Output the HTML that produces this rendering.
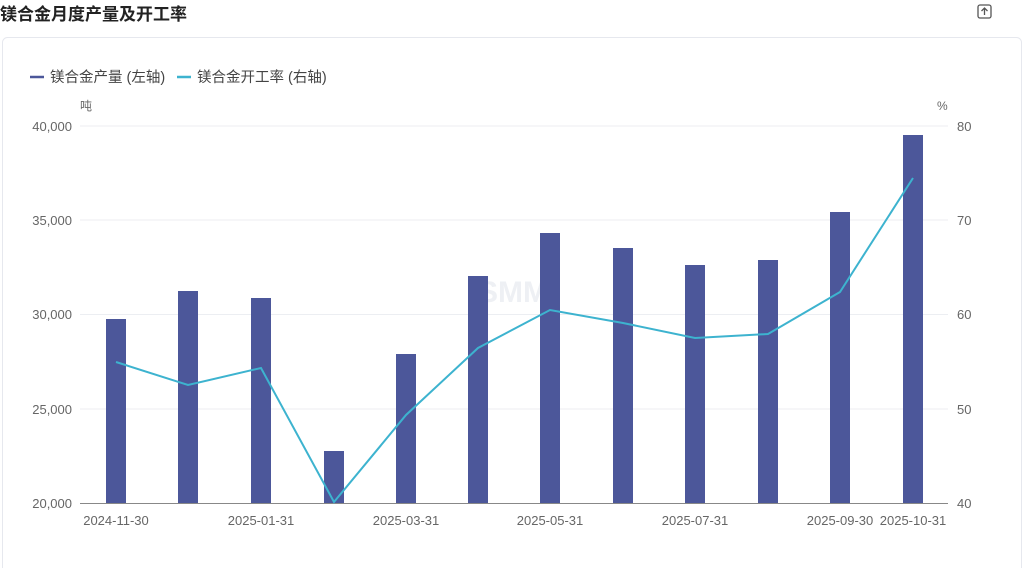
<!DOCTYPE html>
<html><head><meta charset="utf-8"><style>
body{margin:0;width:1024px;height:568px;background:#fff;overflow:hidden;font-family:"Liberation Sans","Noto Sans CJK SC",sans-serif;}
</style></head><body>
<svg width="1024" height="568" xmlns="http://www.w3.org/2000/svg" font-family="Liberation Sans, Noto Sans CJK SC, sans-serif">
<text x="0" y="20" font-size="17" font-weight="bold" fill="#222">镁合金月度产量及开工率</text>
<rect x="978" y="5" width="13" height="13" rx="2" fill="none" stroke="#555" stroke-width="1.3"/>
<path d="M984.5 15V8M981.5 11l3-3 3 3" fill="none" stroke="#555" stroke-width="1.3"/>
<rect x="2.5" y="37.5" width="1019" height="540" rx="5" fill="none" stroke="#e6e8ee"/>
<line x1="30" y1="77" x2="44" y2="77" stroke="#4c579a" stroke-width="2.5"/>
<text x="50" y="82" font-size="14.5" fill="#444">镁合金产量 (左轴)</text>
<line x1="177" y1="77" x2="191" y2="77" stroke="#3db3cf" stroke-width="2.5"/>
<text x="197" y="82" font-size="14.5" fill="#444">镁合金开工率 (右轴)</text>
<text x="80" y="110" font-size="12" fill="#666">吨</text>
<text x="937" y="110" font-size="12" fill="#666">%</text>
<g stroke="#eceef2">
<line x1="80" y1="126" x2="948" y2="126"/><line x1="80" y1="220" x2="948" y2="220"/>
<line x1="80" y1="314.5" x2="948" y2="314.5"/><line x1="80" y1="409" x2="948" y2="409"/>
</g>
<line x1="80" y1="503.5" x2="948" y2="503.5" stroke="#888"/>
<g font-size="13" fill="#666" text-anchor="end">
<text x="72" y="131">40,000</text><text x="72" y="225">35,000</text><text x="72" y="319">30,000</text><text x="72" y="414">25,000</text><text x="72" y="508">20,000</text>
</g>
<g font-size="13" fill="#666">
<text x="957" y="131">80</text><text x="957" y="225">70</text><text x="957" y="319">60</text><text x="957" y="414">50</text><text x="957" y="508">40</text>
</g>
<g font-size="13" fill="#666" text-anchor="middle">
<text x="116" y="525">2024-11-30</text><text x="261" y="525">2025-01-31</text><text x="406" y="525">2025-03-31</text><text x="550" y="525">2025-05-31</text><text x="695" y="525">2025-07-31</text><text x="840" y="525">2025-09-30</text><text x="913" y="525">2025-10-31</text>
</g>
<text x="513" y="302" font-size="30" font-weight="bold" fill="#eef0f4" text-anchor="middle">SMM</text>
<g fill="#4c579a">
<rect x="106" y="319" width="20" height="184"/>
<rect x="178" y="291" width="20" height="212"/>
<rect x="251" y="298" width="20" height="205"/>
<rect x="324" y="451" width="20" height="52"/>
<rect x="396" y="354" width="20" height="149"/>
<rect x="468" y="276" width="20" height="227"/>
<rect x="540" y="233" width="20" height="270"/>
<rect x="613" y="248" width="20" height="255"/>
<rect x="685" y="265" width="20" height="238"/>
<rect x="758" y="260" width="20" height="243"/>
<rect x="830" y="212" width="20" height="291"/>
<rect x="903" y="135" width="20" height="368"/>
</g>
<polyline fill="none" stroke="#3db3cf" stroke-width="2" points="116,362 188,385 261,368 334,502 406,415 478,348 550,310 623,323 695,338 768,334 840,292 913,178"/>
</svg>
</body></html>
